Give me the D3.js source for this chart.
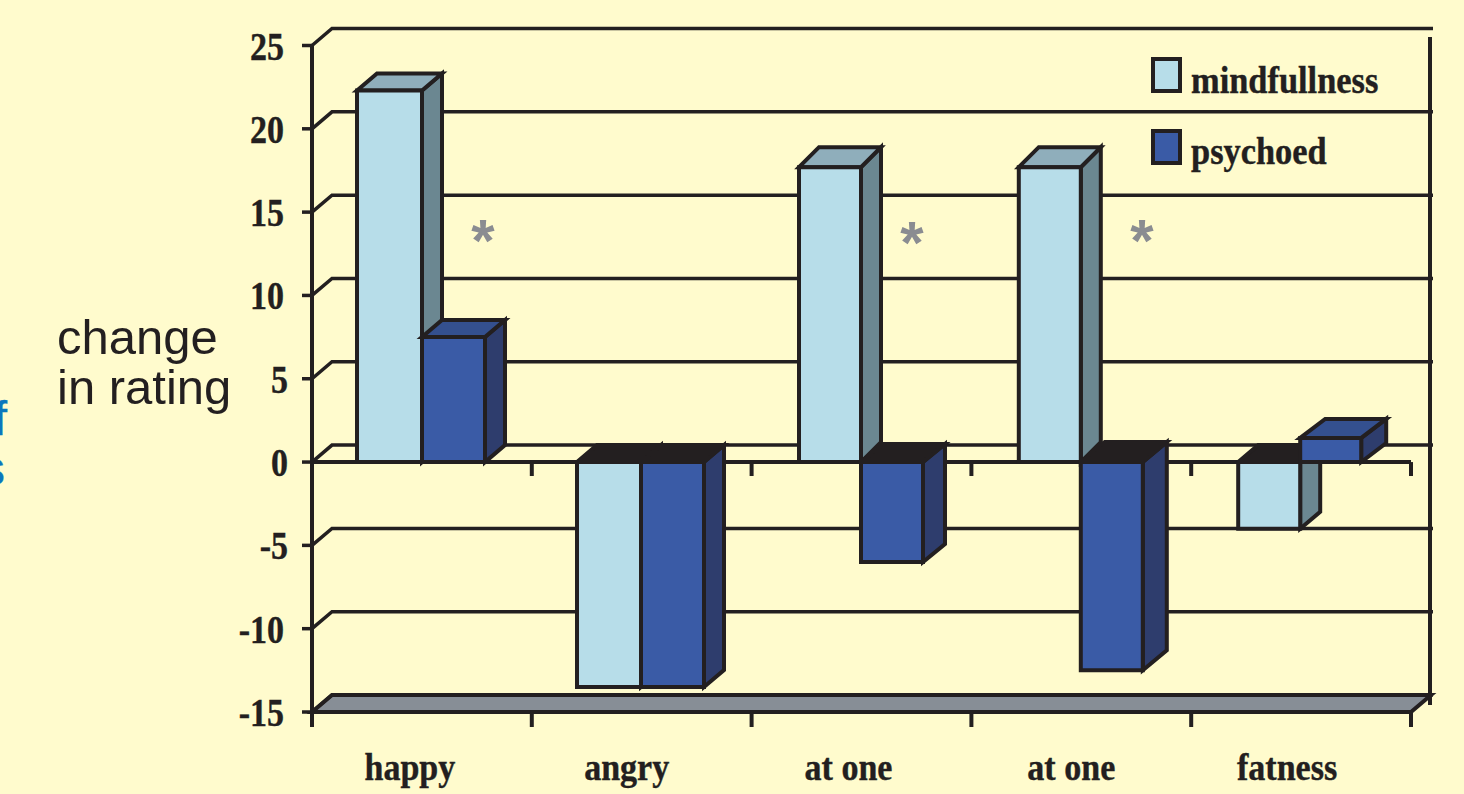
<!DOCTYPE html>
<html><head><meta charset="utf-8">
<script src="https://cdn.jsdelivr.net/npm/d3@7"></script>
<style>html,body{margin:0;padding:0;background:#FFFBCD;overflow:hidden}svg{display:block}</style>
</head><body><svg id="c" width="1464" height="794"></svg>
<script>
const categories = ["happy","angry","at one","at one","fatness"];
const mindfullness = [22.3,-13.5,17.7,17.7,-4];
const psychoed = [7.5,-13.5,-6,-12.5,1.45];
const yTicks = [25,20,15,10,5,0,-5,-10,-15];
const stars = [0,2,3];

// layout nudges, per category: the original's hand-drawn bars are not evenly spaced
const barStart = [45,45.2,47.4,47.4,47];
const barW1 = [65,64,62,62,62];
const barW2 = [63,63,62,62,61];
const depthM = [17,17,20,20,17];
const depthP = [17,17,18,20,19];
const shiftP = [20,20,22,24,25];
const labelNudge = [-12,-15,-13,-10,-14];
const starX = [483,912,1142];
const starY = [261,263,261];

const ink="#231F20", dx=20, dy=-17;
const svg=d3.select("#c");
const y=d3.scaleLinear().domain([-15,25]).range([712,45.5]);
const x=d3.scaleBand().domain(d3.range(categories.length)).range([312,1411]);
const serif="'Liberation Serif',serif", sans="'Liberation Sans',sans-serif";
const poly=(pts,fill,sw=4)=>svg.append("path").attr("d","M"+pts.map(p=>p.join(",")).join("L")+"Z")
  .attr("fill",fill).attr("stroke",ink).attr("stroke-width",sw).attr("stroke-linejoin","miter");
const line=(x1,y1,x2,y2,sw=3.5)=>svg.append("line").attr("x1",x1).attr("y1",y1).attr("x2",x2).attr("y2",y2).attr("stroke",ink).attr("stroke-width",sw);
const boldText=(sel)=>sel.attr("font-family",serif).attr("font-weight",700).attr("fill",ink).attr("stroke",ink).attr("stroke-width",.4);

// floor
poly([[x.range()[0],y(-15)],[x.range()[0]+dx,y(-15)+dy],[x.range()[1]+dx,y(-15)+dy],[x.range()[1],y(-15)]],"#878E96",4);
// walls
yTicks.forEach(t=>{
  svg.append("path").attr("d",`M${x.range()[0]},${y(t)}L${x.range()[0]+dx},${y(t)+dy}H1433`)
    .attr("fill","none").attr("stroke",ink).attr("stroke-width",3.5);
  line(302,y(t),x.range()[0],y(t),3.5);
  boldText(svg.append("text").attr("transform",`translate(${t===0||Math.abs(t)===5?288:284},${y(t)+14}) scale(.85,1)`).attr("text-anchor","end")
    .attr("font-size",40)).text(t);
});
line(1430,37,1430,705,4);
line(312,45,312,727,4);
line(312,y(0),1411,y(0),4);
d3.range(1,categories.length+1).forEach(i=>{
  const tx=x.range()[0]+x.bandwidth()*i;
  line(tx,y(0),tx,476,4);
  line(tx,y(-15),tx,727,4);
});

// bars
function bar(v,x0,w,shift,depth,cols){
  const x1=x0+w;
  const yv=y(v), y0=y(0);
  const t=Math.min(yv,y0), b=Math.max(yv,y0);
  poly([[x1,t],[x1+shift,t-depth],[x1+shift,b-depth],[x1,b]],cols[2]);
  poly([[x0,t],[x0+shift,t-depth],[x1+shift,t-depth],[x1,t]],v<0?ink:cols[1]);
  poly([[x0,t],[x1,t],[x1,b],[x0,b]],cols[0]);
}
const c1=["#B7DDE9","#8FAEBB","#6B8791"], c2=["#3A5BA6","#34508F","#2E3D6D"];
categories.forEach((c,i)=>{
  const x0=x(i)+barStart[i];
  const dm=mindfullness[i]<0?17:depthM[i];
  bar(mindfullness[i],x0,barW1[i],dx,dm,c1);
  bar(psychoed[i],x0+barW1[i],barW2[i],shiftP[i],depthP[i],c2);
  boldText(svg.append("text").attr("transform",`translate(${x(i)+x.bandwidth()/2+labelNudge[i]},780) scale(.92,1)`)
    .attr("text-anchor","middle").attr("font-size",37)).text(c);
});
// asterisks
stars.forEach((s,j)=>svg.append("text").attr("x",starX[j]).attr("y",starY[j]).attr("text-anchor","middle")
  .attr("font-family",sans).attr("font-weight",700).attr("font-size",60).attr("fill","#8A8C91").text("*"));

// legend
[["mindfullness",c1[0],59,93],["psychoed",c2[0],131,164]].forEach(([n,f,ty,by])=>{
  svg.append("rect").attr("x",1153).attr("y",ty).attr("width",27).attr("height",32).attr("fill",f).attr("stroke",ink).attr("stroke-width",4);
  boldText(svg.append("text").attr("transform",`translate(1191,${by}) scale(.93,1)`).attr("font-size",37)).text(n);
});
// labels
[["change",354],["in rating",404]].forEach(([t,yy])=>svg.append("text").attr("x",57).attr("y",yy)
  .attr("font-family",sans).attr("font-size",49).attr("fill",ink).text(t));
[["f",435,7],["s",485,5]].forEach(([t,yy,xx])=>svg.append("text").attr("x",xx).attr("y",yy).attr("text-anchor","end")
  .attr("font-family",sans).attr("font-size",48).attr("fill","#0A77BD").attr("stroke","#0A77BD").attr("stroke-width",.3).text(t));
</script></body></html>
